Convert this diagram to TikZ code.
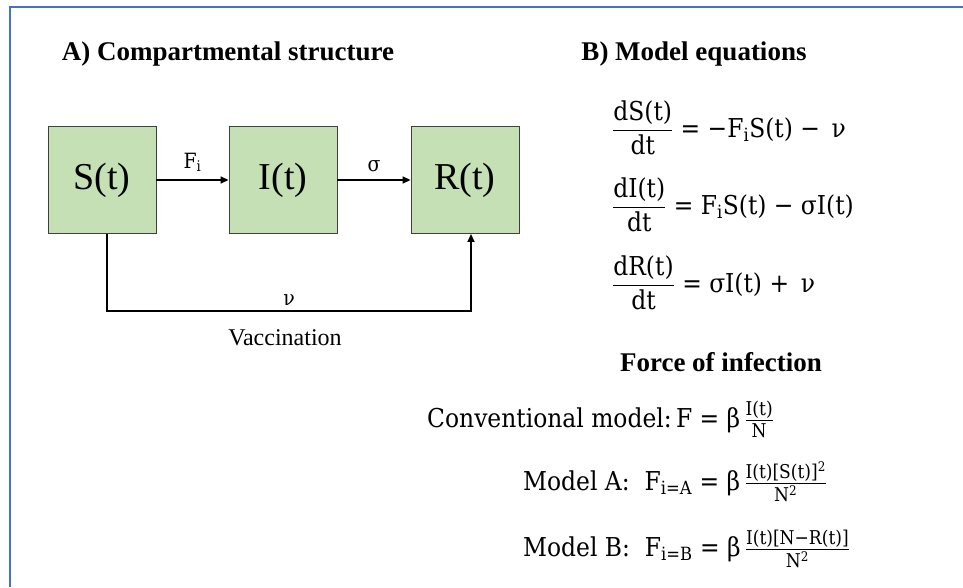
\documentclass[tikz,border=0pt]{standalone}
\usepackage{amsmath}
\usepackage{fontspec}
\setmainfont{Liberation Serif}
\newfontfamily\eqfont{DejaVu Serif Condensed}
\usetikzlibrary{positioning,arrows.meta,calc}
\definecolor{boxgreen}{HTML}{C5E0B4}
\definecolor{frameblue}{HTML}{4472C4}
\tikzset{
  comp/.style={draw=black!75, fill=boxgreen, line width=0.9pt, minimum width=108pt, minimum height=107pt, font=\fontsize{38}{40}\selectfont},
  arr/.style={-{Triangle[length=8pt,width=7pt]}, line width=1.5pt},
  head/.style={font=\fontsize{27}{30}\selectfont\bfseries},
  eq/.style={anchor=base west, inner sep=0pt, font=\fontsize{26}{30}\eqfont},
  lbl/.style={font=\fontsize{21}{24}\eqfont}}
\newcommand{\tx}[1]{\text{#1}}
% small fraction parts
\newcommand{\nm}[1]{\raisebox{2pt}{\fontsize{19}{21}\selectfont #1}}
\newcommand{\dn}[1]{\raisebox{-2pt}{\fontsize{19}{21}\selectfont #1}}

\begin{document}
\begin{tikzpicture}[x=1pt,y=-1pt]
\useasboundingbox (0,0) rectangle (963,587);
\draw[frameblue, line width=2pt] (10,587) -- (10,7) -- (963,7);
% A) compartments
\node[head] (titleA) at (228,54) {A) Compartmental structure};
\node[comp] (S) at (102,180) {S(t)};
\node[comp] (I) at (283,180) {I(t)};
\node[comp] (R) at (465,180) {R(t)};
\draw[arr] (S) -- node[lbl, above=4pt] {F$_{\tx{i}}$} (I);
\draw[arr] (I) -- node[lbl, above=4pt] {σ} (R);
\draw[arr] ([xshift=5pt]S.south) -- ++(0,77) -| node[lbl, pos=0.25, above=1pt] {ν} ([xshift=6pt]R.south);
\node[font=\fontsize{24}{27}\selectfont] (vacc) at (285,338) {Vaccination};
% B) equations
\node[head] (titleB) at (694,54) {B) Model equations};
\node[eq] (eqS) at (612,137) {$\dfrac{\tx{dS(t)}}{\tx{dt}}\tx{ = −F}_{\tx{i}}\tx{S(t) −\ \,ν}$};
\node[eq] (eqI) at (612,214) {$\dfrac{\tx{dI(t)}}{\tx{dt}}\tx{ = F}_{\tx{i}}\tx{S(t) − σI(t)}$};
\node[eq] (eqR) at (612,292) {$\dfrac{\tx{dR(t)}}{\tx{dt}}\tx{ = σI(t) +\ \,ν}$};
% force of infection
\node[head] (foi) at (721,362) {Force of infection};
\node[eq] (conv) at (427,427) {Conventional model:\,F = β\,$\frac{\nm{I(t)}}{\dn{N}}$};
\node[eq] (modA) at (523,490) {Model A: \ F$_{\tx{i=A}}$ = β\,$\frac{\nm{I(t)[S(t)]\textsuperscript{2}}}{\dn{N\textsuperscript{2}}}$};
\node[eq] (modB) at (523,556) {Model B: \ F$_{\tx{i=B}}$ = β\,$\frac{\nm{I(t)[N−R(t)]}}{\dn{N\textsuperscript{2}}}$};
\end{tikzpicture}
\end{document}
